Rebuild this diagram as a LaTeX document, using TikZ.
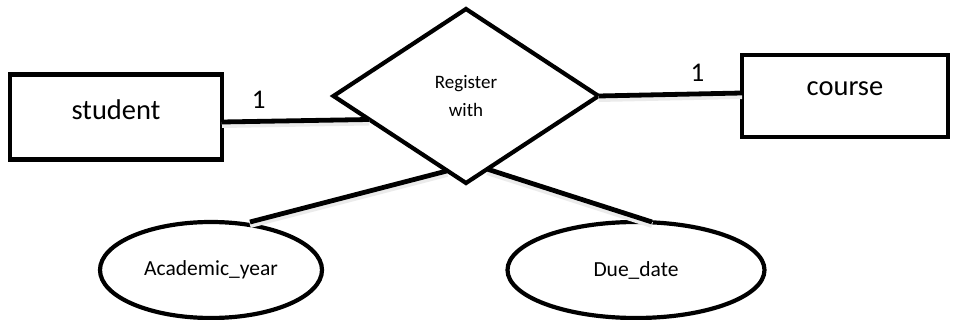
\documentclass[tikz,border=0pt]{standalone}
\usepackage{fontspec}
\setmainfont{Carlito}
\usetikzlibrary{shapes.geometric,calc}

\begin{document}
\begin{tikzpicture}[x=1pt,y=-1pt,line width=4.2pt,
  entity/.style={draw,rectangle,minimum width=212pt,minimum height=85pt,outer sep=0pt,font=\fontsize{28.5}{32}\selectfont,text depth=14pt},
  rel/.style={draw,diamond,minimum width=265pt,minimum height=174pt,inner sep=0pt,outer sep=0pt,align=center,font=\fontsize{19}{28}\selectfont},
  attr/.style={draw,ellipse,minimum height=96pt,outer sep=0pt,font=\fontsize{21.5}{25}\selectfont},
  card/.style={font=\fontsize{27}{30}\selectfont},
  link/.style={line width=4.8pt,preaction={draw=black!8,line width=6pt,transform canvas={yshift=-3pt}}}]
\useasboundingbox (0,0) rectangle (955,320);
\node[entity] (student) at (116,117) {student};
\node[entity,minimum width=206pt,minimum height=82pt] (course) at (845,96) {course};
\node[rel] (reg) at (466,96) {Register\\with};
\node[attr,minimum width=222pt] (year) at (211,270) {Academic\_year};
\node[attr,minimum width=257pt] (due) at (636,270) {Due\_date};
\draw[link] ([yshift=-5pt]student.east) -- node[card,pos=0.25,above=7pt] {1} ($(reg.west)!0.27!(reg.south)$);
\draw[link] (reg.east) -- node[card,pos=0.69,above=7pt] {1} ([yshift=3pt]course.west);
\draw[link] ($(reg.west)!0.86!(reg.south)$) -- ([xshift=39pt]year.north);
\draw[link] ($(reg.south)!0.16!(reg.east)$) -- ([xshift=16pt]due.north);
\end{tikzpicture}
\end{document}
